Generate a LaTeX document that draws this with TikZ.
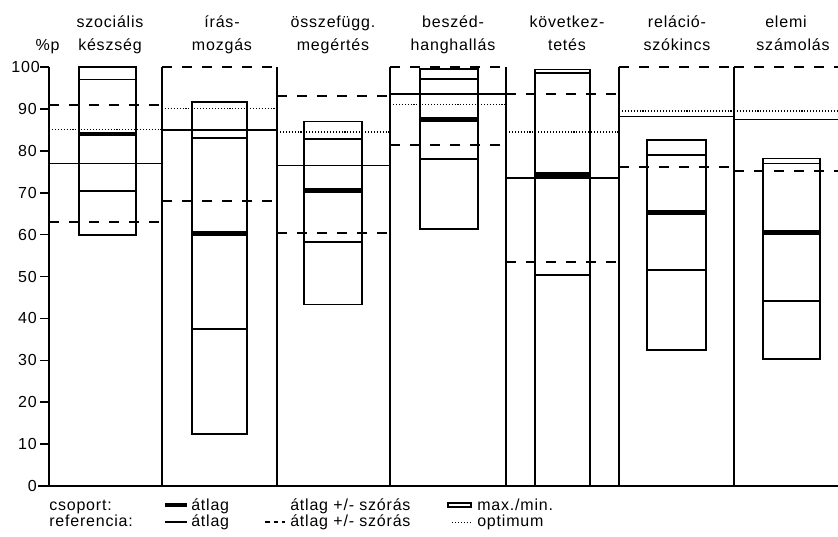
\documentclass[tikz,border=0pt]{standalone}
\usepackage{fontspec}
\setmainfont[LetterSpace=5]{Liberation Sans}
\begin{document}
\begin{tikzpicture}[x=0.75pt,y=3.1425pt]
            \tikzstyle{every node}+=[inner sep=0pt,font=\fontsize{12}{14}\selectfont]
            \tikzstyle{frame}=[black,line width=1.2pt]
            \tikzstyle{boxline}=[black,line width=1.3pt]
            \tikzstyle{grpmean}=[black,line width=3.6pt]
            \tikzstyle{refmean}=[black,line width=1.2pt]
            \tikzstyle{refsd}=[black,line width=1.4pt,dash pattern=on 7.5pt off 7.5pt]
            \tikzstyle{refopt}=[black,line width=0.8pt,dash pattern=on 0.8pt off 1.4pt]
            \useasboundingbox (0,-11.93) rectangle (838,116);
            \draw (110,109.55) node [anchor=base] (szoc1) {szociális};
            \draw (110,104.06) node [anchor=base] (szoc2) {készség};
            \draw (222,109.55) node [anchor=base] (iras1) {írás-};
            \draw (222,104.06) node [anchor=base] (iras2) {mozgás};
            \draw (333,109.55) node [anchor=base] (ossz1) {összefügg.};
            \draw (333,104.06) node [anchor=base] (ossz2) {megértés};
            \draw (453,109.55) node [anchor=base] (besz1) {beszéd-};
            \draw (453,104.06) node [anchor=base] (besz2) {hanghallás};
            \draw (567,109.55) node [anchor=base] (kov1) {következ-};
            \draw (567,104.06) node [anchor=base] (kov2) {tetés};
            \draw (677,109.55) node [anchor=base] (rel1) {reláció-};
            \draw (677,104.06) node [anchor=base] (rel2) {szókincs};
            \draw (786,109.55) node [anchor=base] (elem1) {elemi};
            \draw (793,104.06) node [anchor=base] (elem2) {számolás};
            \draw (47.5,104.06) node [anchor=base] (unit) {\%p};
            \draw (37,0) node [anchor=east] (t0) {0};
            \draw (37,10) node [anchor=east] (t10) {10};
            \draw (37,20) node [anchor=east] (t20) {20};
            \draw (37,30) node [anchor=east] (t30) {30};
            \draw (37,40) node [anchor=east] (t40) {40};
            \draw (37,50) node [anchor=east] (t50) {50};
            \draw (37,60) node [anchor=east] (t60) {60};
            \draw (37,70) node [anchor=east] (t70) {70};
            \draw (37,80) node [anchor=east] (t80) {80};
            \draw (37,90) node [anchor=east] (t90) {90};
            \draw (40,100) node [anchor=east] (t100) {100};
            \draw [frame] (38,0) -- (838,0);
            \draw [frame] (49,0) -- (49,100);
            \draw [frame] (40,10) -- (49,10);
            \draw [frame] (40,20) -- (49,20);
            \draw [frame] (40,30) -- (49,30);
            \draw [frame] (40,40) -- (49,40);
            \draw [frame] (40,50) -- (49,50);
            \draw [frame] (40,60) -- (49,60);
            \draw [frame] (40,70) -- (49,70);
            \draw [frame] (40,80) -- (49,80);
            \draw [frame] (40,90) -- (49,90);
            \draw [frame] (40,100) -- (49,100);
            \draw [frame] (162,0) -- (162,100);
            \draw [frame] (277,0) -- (277,100);
            \draw [frame] (390,0) -- (390,100);
            \draw [frame] (506,0) -- (506,100);
            \draw [frame] (619,0) -- (619,100);
            \draw [frame] (734,0) -- (734,100);
            \draw [boxline] (79,60) rectangle (136,100);
            \draw [boxline] (79,97) -- (136,97);
            \draw [boxline] (79,70.5) -- (136,70.5);
            \draw [grpmean] (79,84) -- (136,84);
            \draw [refmean] (49,77) -- (162,77);
            \draw [refsd] (49,91) -- (162,91);
            \draw [refsd] (49,63) -- (162,63);
            \draw [refopt] (49,85) -- (162,85);
            \draw [boxline] (192,12.5) rectangle (247,91.7);
            \draw [boxline] (192,83) -- (247,83);
            \draw [boxline] (192,37.5) -- (247,37.5);
            \draw [grpmean] (192,60.3) -- (247,60.3);
            \draw [refmean] (162,85) -- (277,85);
            \draw [refsd] (162,100) -- (277,100);
            \draw [refsd] (162,68) -- (277,68);
            \draw [refopt] (162,90) -- (277,90);
            \draw [boxline] (304,43.3) rectangle (362,87);
            \draw [boxline] (304,82.8) -- (362,82.8);
            \draw [boxline] (304,58.2) -- (362,58.2);
            \draw [grpmean] (304,70.6) -- (362,70.6);
            \draw [refmean] (277,76.5) -- (390,76.5);
            \draw [refsd] (277,93) -- (390,93);
            \draw [refsd] (277,60.3) -- (390,60.3);
            \draw [refopt] (277,84.5) -- (390,84.5);
            \draw [boxline] (420,61.3) rectangle (478,99.5);
            \draw [boxline] (420,97.1) -- (478,97.1);
            \draw [boxline] (420,78) -- (478,78);
            \draw [grpmean] (420,87.5) -- (478,87.5);
            \draw [refmean] (390,93.5) -- (506,93.5);
            \draw [refsd] (390,100) -- (506,100);
            \draw [refsd] (390,81.3) -- (506,81.3);
            \draw [refopt] (390,91) -- (506,91);
            \draw [boxline] (535,0) rectangle (590,99.4);
            \draw [boxline] (535,98.6) -- (590,98.6);
            \draw [boxline] (535,50.4) -- (590,50.4);
            \draw [grpmean] (535,74.3) -- (590,74.3);
            \draw [refmean] (506,73.5) -- (619,73.5);
            \draw [refsd] (506,93.5) -- (619,93.5);
            \draw [refsd] (506,53.5) -- (619,53.5);
            \draw [refopt] (506,84.5) -- (619,84.5);
            \draw [boxline] (647,32.5) rectangle (706,82.6);
            \draw [boxline] (647,79) -- (706,79);
            \draw [boxline] (647,51.5) -- (706,51.5);
            \draw [grpmean] (647,65.3) -- (706,65.3);
            \draw [refmean] (619,88.2) -- (734,88.2);
            \draw [refsd] (619,100) -- (734,100);
            \draw [refsd] (619,76.2) -- (734,76.2);
            \draw [refopt] (619,89.5) -- (734,89.5);
            \draw [boxline] (763,30.3) rectangle (820,78.2);
            \draw [boxline] (763,77) -- (820,77);
            \draw [boxline] (763,44.2) -- (820,44.2);
            \draw [grpmean] (763,60.6) -- (820,60.6);
            \draw [refmean] (734,87.5) -- (838,87.5);
            \draw [refsd] (734,100) -- (838,100);
            \draw [refsd] (734,75.2) -- (838,75.2);
            \draw [refopt] (734,89.5) -- (838,89.5);
            \draw (49,-5.73) node [anchor=base west] (csop) {csoport:};
            \draw (49,-9.55) node [anchor=base west] (refe) {referencia:};
            \draw [grpmean] (165,-4.53) -- (187,-4.53);
            \draw (191,-5.73) node [anchor=base west] (csopmean) {átlag};
            \draw (290,-5.73) node [anchor=base west] (csopsd) {átlag +/- szórás};
            \draw [boxline] (448,-4.1) rectangle (471,-5.0);
            \draw (477,-5.73) node [anchor=base west] (csopmax) {max./min.};
            \draw [refmean] (165,-8.6) -- (187,-8.6);
            \draw (191,-9.55) node [anchor=base west] (refmeantxt) {átlag};
            \draw [black,line width=1.1pt,dash pattern=on 3.5pt off 3pt] (265,-8.6) -- (285,-8.6);
            \draw (290,-9.55) node [anchor=base west] (refsdtxt) {átlag +/- szórás};
            \draw [refopt] (452,-8.6) -- (472,-8.6);
            \draw (477,-9.55) node [anchor=base west] (refopttxt) {optimum};
\end{tikzpicture}
\end{document}
